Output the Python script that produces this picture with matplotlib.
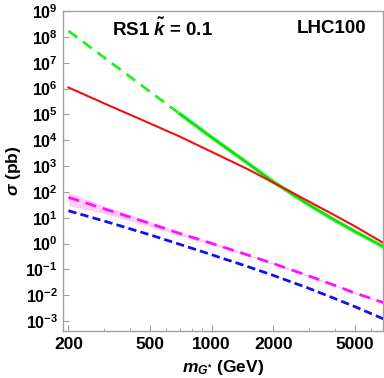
import matplotlib.pyplot as plt
import numpy as np
from matplotlib.ticker import FixedLocator, NullFormatter, FixedFormatter

# masses (GeV) where curves were read
mass = [200, 300, 500, 700, 1000, 1500, 2000, 3000, 4000, 5000, 6880]

# log10 of cross sections (pb)
green_log = [8.23, 7.19, 5.88, 5.02, 4.11, 3.11, 2.39, 1.49, 0.90, 0.47, -0.12]
red_log = [6.04, 5.42, 4.65, 4.14, 3.55, 2.88, 2.36, 1.62, 1.09, 0.67, 0.03]
magenta_log = [1.79, 1.34, 0.78, 0.39, 0.01, -0.44, -0.77, -1.26, -1.62, -1.91, -2.28]
blue_log = [1.27, 0.87, 0.34, -0.03, -0.43, -0.89, -1.23, -1.74, -2.13, -2.44, -2.91]

# magenta uncertainty band (log10 offsets)
band_up = [0.18, 0.12, 0.08, 0.06, 0.04, 0.03, 0.03, 0.03, 0.03, 0.03, 0.03]
band_dn = [0.30, 0.18, 0.12, 0.08, 0.05, 0.03, 0.03, 0.03, 0.03, 0.03, 0.03]

green_dash_end = 3  # index: dashed up to ~700 GeV, solid after

plt.rcParams['font.family'] = ['Liberation Sans', 'DejaVu Sans']
plt.rcParams['mathtext.fontset'] = 'custom'
plt.rcParams['mathtext.it'] = 'Liberation Sans:italic:bold'
plt.rcParams['mathtext.rm'] = 'Liberation Sans:bold'
plt.rcParams['mathtext.bf'] = 'Liberation Sans:bold'

fig = plt.figure(figsize=(3.84, 3.78), dpi=100)
ax = fig.add_axes([0.165, 0.124, 0.833, 0.847])

m = np.array(mass)
g = 10 ** np.array(green_log)
r = 10 ** np.array(red_log)
mg = 10 ** np.array(magenta_log)
b = 10 ** np.array(blue_log)

ax.fill_between(m, mg * 10 ** np.array(band_up), mg / 10 ** np.array(band_dn),
                color='#ff99ff', alpha=0.5, lw=0)

ax.plot(m[:green_dash_end + 1], g[:green_dash_end + 1], color='#22ee22', lw=2.0,
        dashes=(4, 2.5))
ax.plot(m[green_dash_end:], g[green_dash_end:], color='#88ff88', lw=3.4, alpha=0.8)
ax.plot(m[green_dash_end:], g[green_dash_end:], color='#11dd11', lw=2.0)
ax.plot(m, r, color='#ee1111', lw=1.5)
ax.plot(m, mg, color='#ff11ff', lw=2.0, dashes=(4, 2.5))
ax.plot(m, b, color='#1111ee', lw=2.0, dashes=(3, 1.5))

ax.set_xscale('log')
ax.set_yscale('log')
ax.set_xlim(189, 6880)
ax.set_ylim(10 ** -3.387, 1e9)

major_x = [200, 500, 1000, 2000, 5000]
minor_x = [300, 400, 600, 700, 800, 900, 3000, 4000, 6000]
ax.xaxis.set_major_locator(FixedLocator(major_x))
ax.xaxis.set_major_formatter(FixedFormatter([str(v) for v in major_x]))
ax.xaxis.set_minor_locator(FixedLocator(minor_x))
ax.xaxis.set_minor_formatter(NullFormatter())

yt = [10.0 ** k for k in range(-3, 10)]
ax.yaxis.set_major_locator(FixedLocator(yt))
ax.yaxis.set_major_formatter(FixedFormatter([r'$\mathbf{10^{%d}}$' % k for k in range(-3, 10)]))
ax.yaxis.set_minor_locator(FixedLocator([]))

for s in ax.spines.values():
    s.set_color('#a0a0a0')
    s.set_linewidth(1.0)
ax.tick_params(which='both', direction='in', color='#a0a0a0', top=False, right=False)
ax.tick_params(axis='x', labelsize=12.5)
ax.tick_params(axis='y', labelsize=11.5)
ax.tick_params(which='major', length=4, pad=4)
ax.tick_params(which='minor', length=2.5)
for lab in ax.get_xticklabels() + ax.get_yticklabels():
    lab.set_fontweight('bold')

ax.set_ylabel(r'$\sigma$ (pb)', fontsize=12.5, fontweight='bold')
ax.set_xlabel(r'$m_{G^{*}}$ (GeV)', fontsize=12.5, fontweight='bold')
ax.yaxis.set_label_coords(-0.125, 0.5)
ax.xaxis.set_label_coords(0.5, -0.085)

ax.text(0.31, 0.944, r'RS1 $\tilde{k}$ = 0.1', transform=ax.transAxes, fontsize=13.5,
        fontweight='bold', ha='center', va='center')
ax.text(0.837, 0.944, 'LHC100', transform=ax.transAxes, fontsize=13.5,
        fontweight='bold', ha='center', va='center')

fig.savefig('out.png', dpi=100)
